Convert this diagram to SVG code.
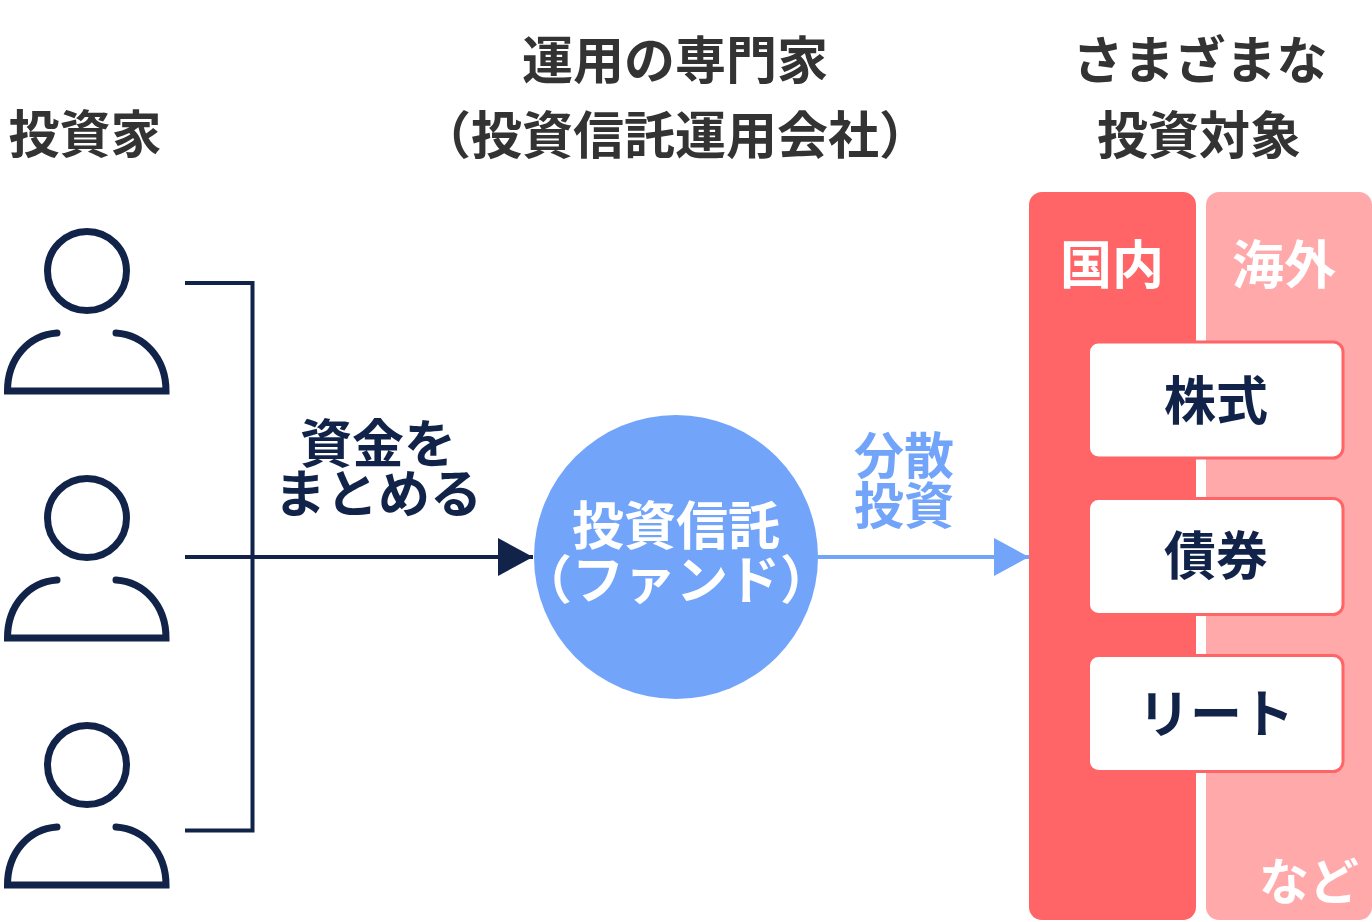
<svg xmlns="http://www.w3.org/2000/svg" width="1372" height="922" viewBox="0 0 1372 922">
<defs>
<g id="person" fill="none" stroke="#12234a" stroke-width="7" stroke-linecap="round">
<circle cx="87" cy="271" r="39.500"/>
<path d="M57 333C29 335 7.500 358 7.500 391H166C166 358 144 335 116 333"/>
</g>
<marker id="a" markerUnits="userSpaceOnUse" markerWidth="36" markerHeight="40" refX="35" refY="20" orient="auto"><path d="M0 1L35 20L0 39Z" fill="#12234a"/></marker>
<marker id="b" markerUnits="userSpaceOnUse" markerWidth="36" markerHeight="40" refX="35" refY="20" orient="auto"><path d="M0 1L35 20L0 39Z" fill="#72a4fa"/></marker>
</defs>
<style>
text{font-family:"Noto Sans CJK JP","Noto Sans",sans-serif;font-weight:700;text-anchor:middle}
.h{font-size:51px;fill:#333}
.n{font-size:52px;fill:#12234a}
.box{fill:#fff;stroke:#ff6467;stroke-width:3}
</style>
<rect width="1372" height="922" fill="#fff"/>
<g id="heading-investor"><text class="h" x="85" y="153">投資家</text></g>
<g id="heading-manager"><text class="h" x="675" y="79">運用の専門家</text><text class="h" x="675" y="154">（投資信託運用会社）</text></g>
<g id="heading-target"><text class="h" x="1200" y="79">さまざまな</text><text class="h" x="1199" y="154">投資対象</text></g>
<g id="investor-1"><use href="#person"/></g>
<g id="investor-2"><use href="#person" y="247"/></g>
<g id="investor-3"><use href="#person" y="494"/></g>
<g id="connectors" fill="none">
<path d="M185 283H252.500V830.500H185" stroke="#12234a" stroke-width="4"/>
<path d="M185 557H533" stroke="#12234a" stroke-width="4" marker-end="url(#a)"/>
<path d="M818 557H1029" stroke="#72a4fa" stroke-width="4" marker-end="url(#b)"/>
</g>
<g id="label-gather"><text class="n" x="378" y="463">資金を</text><text class="n" x="378" y="513">まとめる</text></g>
<g id="label-diversify"><text x="904" y="474" font-size="50" fill="#72a4fa">分散</text><text x="904" y="524" font-size="50" fill="#72a4fa">投資</text></g>
<g id="fund"><circle cx="676" cy="557" r="142" fill="#72a4fa"/><text x="676" y="545" font-size="52" fill="#fff">投資信託</text><text x="676" y="599" font-size="52" fill="#fff">（ファンド）</text></g>
<g id="domestic"><rect x="1029" y="192" width="167" height="728" rx="13" fill="#ff6467"/><text x="1112" y="284" font-size="52" fill="#fff">国内</text></g>
<g id="overseas"><rect x="1206" y="192" width="166" height="728" rx="13" fill="#ffa9ab"/><text x="1284" y="284" font-size="52" fill="#fff">海外</text><text x="1309" y="900" font-size="50" fill="#fff">など</text></g>
<g id="stocks"><rect class="box" x="1088.500" y="342" width="254.500" height="116" rx="10"/><text class="n" x="1216" y="420">株式</text></g>
<g id="bonds"><rect class="box" x="1088.500" y="498.500" width="254.500" height="116" rx="10"/><text class="n" x="1216" y="575">債券</text></g>
<g id="reit"><rect class="box" x="1088.500" y="655.500" width="254.500" height="116" rx="10"/><text class="n" x="1216" y="733">リート</text></g>
</svg>
